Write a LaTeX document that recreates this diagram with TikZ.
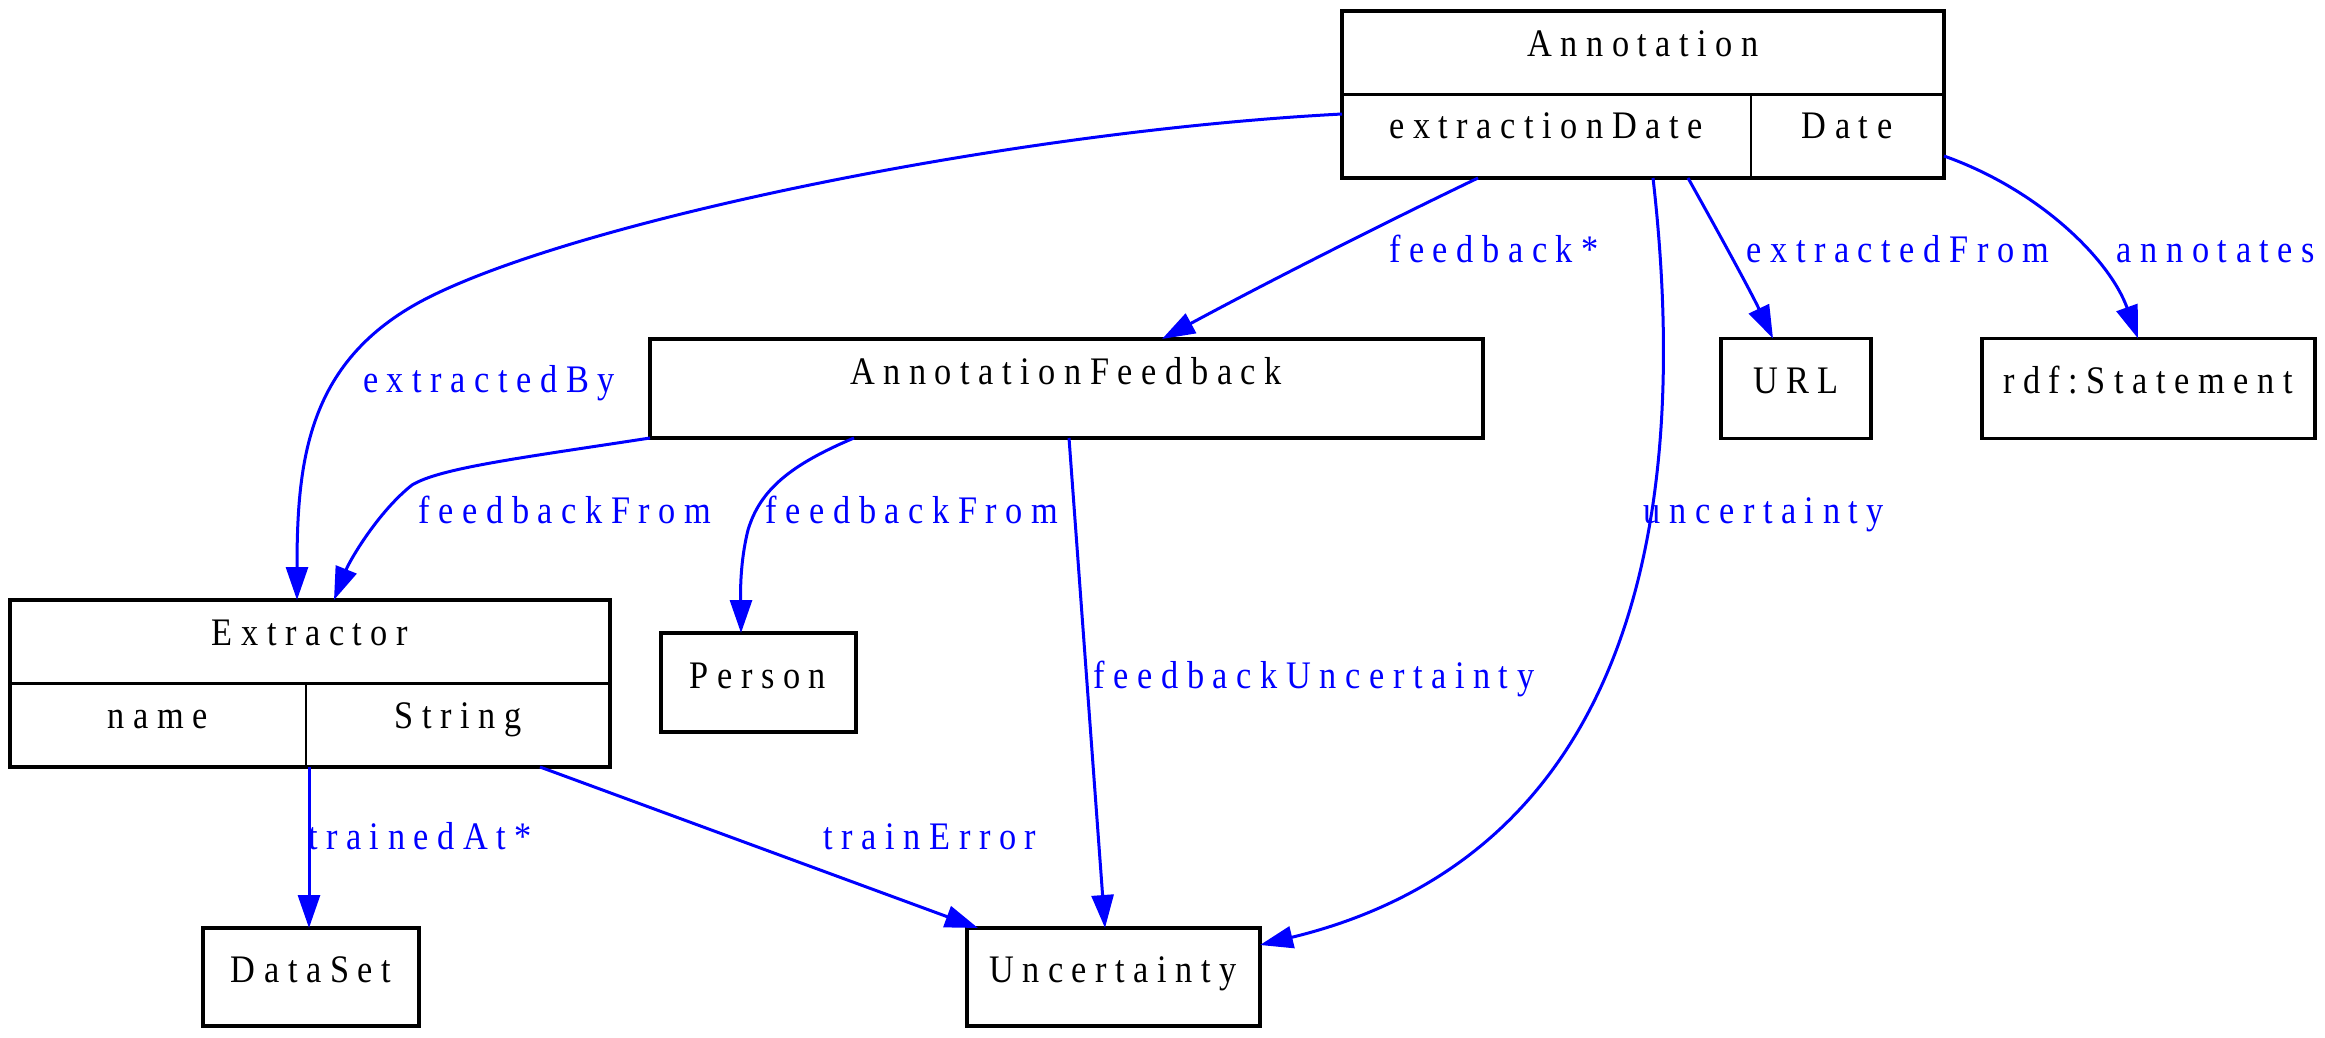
\documentclass[tikz,border=0pt]{standalone}
\usepackage{fontspec}
\setmainfont{Liberation Serif}[FakeStretch=0.88,LetterSpace=22]
\usetikzlibrary{arrows.meta}
\begin{document}
\begin{tikzpicture}[x=1pt,y=-1pt,
  box/.style={draw=black, line width=3.3pt, inner sep=0pt, outer sep=0pt},
  divider/.style={draw=black, line width=2.5pt},
  txt/.style={font=\fontsize{39}{47}\selectfont, inner sep=0pt, anchor=base, text=black},
  lbl/.style={txt, text=blue},
  conn/.style={draw=blue, line width=3pt, -{Triangle[length=33pt,width=22pt]}}]
\useasboundingbox (0,0) rectangle (2325,1038);

% boxes
\node[box, minimum width=602pt, minimum height=167pt] (ann) at (1643,94.5) {};
\node[box, minimum width=833pt, minimum height=99pt] (af) at (1066.5,388.5) {};
\node[box, minimum width=150pt, minimum height=100pt] (url) at (1796,388.5) {};
\node[box, minimum width=333pt, minimum height=100pt] (rdf) at (2148.5,388.5) {};
\node[box, minimum width=600pt, minimum height=167pt] (ext) at (310,683.5) {};
\node[box, minimum width=195pt, minimum height=99pt] (person) at (758.5,682.5) {};
\node[box, minimum width=216pt, minimum height=98pt] (dataset) at (311,977) {};
\node[box, minimum width=293pt, minimum height=98pt] (unc) at (1113.5,977) {};

% record dividers
\draw[divider] (ann.west) -- (ann.east);
\draw[divider] ([xshift=108pt]ann.center) -- ([xshift=108pt]ann.south);
\draw[divider] (ext.west) -- (ext.east);
\draw[divider] ([xshift=-4pt]ext.center) -- ([xshift=-4pt]ext.south);

% texts
\node[txt] (annT) at (1643,57) {Annotation};
\node[txt] (annA) at (1546,139) {extractionDate};
\node[txt] (annB) at (1847,139) {Date};
\node[txt] (afT) at (1066,384) {AnnotationFeedback};
\node[txt] (urlT) at (1796,393) {URL};
\node[txt] (rdfT) at (2148,393) {rdf:Statement};
\node[txt] (extT) at (310,645) {Extractor};
\node[txt] (extA) at (158,728) {name};
\node[txt] (extB) at (458,728) {String};
\node[txt] (personT) at (758,688) {Person};
\node[txt] (datasetT) at (311,982) {DataSet};
\node[txt] (uncT) at (1113,982) {Uncertainty};

% connectors
\draw[conn] ([yshift=-19.5pt]ann.west) .. controls (1000,132) and (560,225) .. (418,303)
  .. controls (308,364) and (297,460) .. ([xshift=-13pt]ext.north);
\draw[conn] ([xshift=-165pt]ann.south) .. controls (1380,225) and (1260,286) .. ([xshift=95.5pt]af.north);
\draw[conn] ([xshift=45pt]ann.south) .. controls (1716,228) and (1750,290) .. ([xshift=-23pt]url.north);
\draw[conn] ([yshift=-61.5pt]ann.east) .. controls (2040,190) and (2110,260) .. ([xshift=-10.5pt]rdf.north);
\draw[conn] ([xshift=10pt]ann.south) .. controls (1700,590) and (1590,865) .. ([yshift=32pt]unc.east);
\draw[conn] (af.south west) .. controls (520,458) and (440,468) .. (412,485)
  .. controls (378,512) and (350,560) .. ([xshift=24pt]ext.north);
\draw[conn] ([xshift=-212.5pt]af.south) .. controls (790,465) and (760,490) .. (748,530)
  .. controls (738,570) and (741,610) .. ([xshift=-17.5pt]person.north);
\draw[conn] ([xshift=2.5pt]af.south) -- ([xshift=-8.5pt]unc.north);
\draw[conn] ([xshift=-1pt]ext.south) -- ([xshift=-2pt]dataset.north);
\draw[conn] ([xshift=230pt]ext.south) -- ([xshift=-135.5pt]unc.north);

% labels
\node[lbl] (l1) at (489,392) {extractedBy};
\node[lbl] (l2) at (1494,262) {feedback*};
\node[lbl] (l3) at (1898,262) {extractedFrom};
\node[lbl] (l4) at (2216,262) {annotates};
\node[lbl] (l5) at (1764,523) {uncertainty};
\node[lbl] (l6) at (565,523) {feedbackFrom};
\node[lbl] (l7) at (912,523) {feedbackFrom};
\node[lbl] (l8) at (1314,688) {feedbackUncertainty};
\node[lbl] (l9) at (420,849) {trainedAt*};
\node[lbl] (l10) at (930,849) {trainError};
\end{tikzpicture}
\end{document}
